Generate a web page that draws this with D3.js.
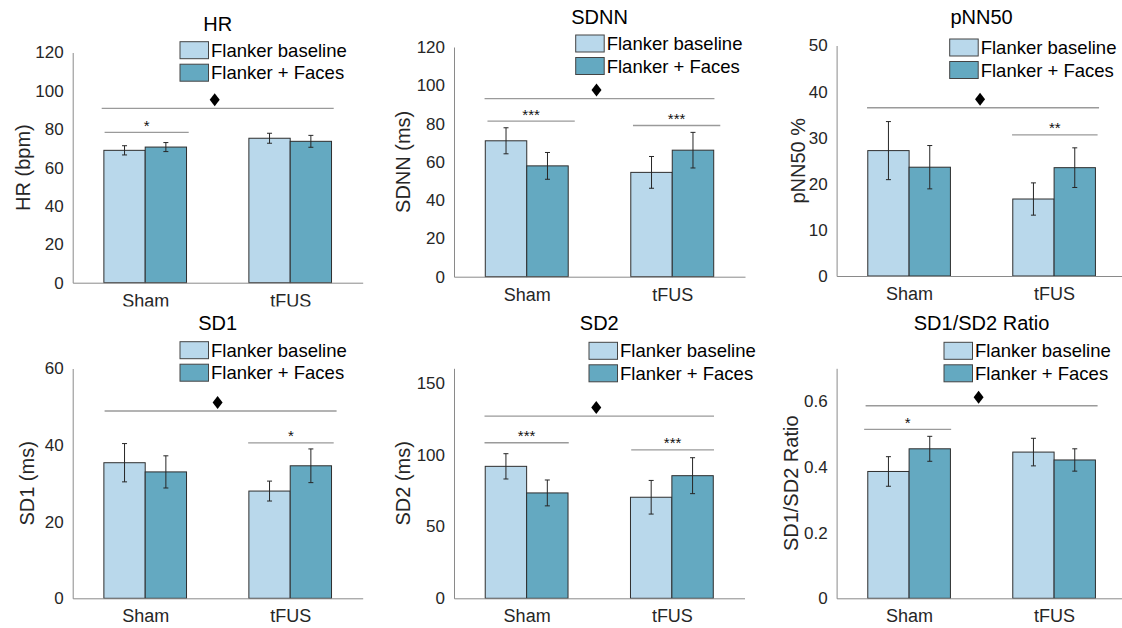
<!DOCTYPE html>
<html>
<head>
<meta charset="utf-8">
<script src="https://cdn.jsdelivr.net/npm/d3@7"></script>
<style>
  body { margin: 0; background: #fff; }
  svg { display: block; font-family: "Liberation Sans", Arial, Helvetica, sans-serif; }
</style>
</head>
<body>
<svg id="chart" width="1122" height="628"></svg>
<script>
// groups and series
const groups = ['Sham', 'tFUS'];
const series = ['Flanker baseline', 'Flanker + Faces'];
const titles = ['HR', 'SDNN', 'pNN50', 'SD1', 'SD2', 'SD1/SD2 Ratio'];
const yLabels = ['HR (bpm)', 'SDNN (ms)', 'pNN50 %', 'SD1 (ms)', 'SD2 (ms)', 'SD1/SD2 Ratio'];
const yMax = [120, 120, 50, 60, 160, 0.7];
const yTicks = [
  [0, 20, 40, 60, 80, 100, 120],
  [0, 20, 40, 60, 80, 100, 120],
  [0, 10, 20, 30, 40, 50],
  [0, 20, 40, 60],
  [0, 50, 100, 150],
  [0, 0.2, 0.4, 0.6]
];

// means [Sham, tFUS] per panel
const baselineMean = [[69.0, 75.3], [71.0, 54.5], [27.2, 16.7], [35.4, 28.0], [91.8, 70.3], [0.386, 0.445]];
const facesMean = [[70.7, 73.7], [57.9, 66.1], [23.6, 23.5], [33.0, 34.6], [73.3, 85.3], [0.455, 0.421]];
// error bar half lengths
const baselineErr = [[2.4, 2.6], [6.8, 8.3], [6.3, 3.5], [5.0, 2.6], [8.8, 11.7], [0.045, 0.042]];
const facesErr = [[2.35, 3.1], [7.0, 9.3], [4.7, 4.3], [4.2, 4.4], [9.0, 12.5], [0.038, 0.034]];

// main effect (diamond) lines, x in category units
const mainEffect = [
  { y: 90.9, x0: 0.70, x1: 2.30 },
  { y: 93.0, x0: 0.71, x1: 2.29 },
  { y: 36.5, x0: 0.71, x1: 2.31 },
  { y: 48.9, x0: 0.72, x1: 2.32 },
  { y: 126.8, x0: 0.71, x1: 2.29 },
  { y: 0.586, x0: 0.70, x1: 2.30 }
];
// pairwise comparisons
const pairwise = [
  [{ y: 78.4, x0: 0.72, x1: 1.30, label: '*' }],
  [{ y: 81.3, x0: 0.73, x1: 1.33, label: '***' }, { y: 79.0, x0: 1.73, x1: 2.33, label: '***' }],
  [{ y: 30.6, x0: 1.71, x1: 2.30, label: '**' }],
  [{ y: 40.6, x0: 1.71, x1: 2.30, label: '*' }],
  [{ y: 108.2, x0: 0.71, x1: 1.29, label: '***' }, { y: 103.2, x0: 1.72, x1: 2.29, label: '***' }],
  [{ y: 0.514, x0: 0.69, x1: 1.29, label: '*' }]
];

const colors = ['#b9d8eb', '#64a9c1'];

// panel layout
const layout = [
  { left: 72.7, right: 362.7, top: 52.5, bottom: 282.7, titleY: 30.5, legX: 180, legY: 41.7, labX: 30, clip: 306.5 },
  { left: 454, right: 745, top: 47, bottom: 276.7, titleY: 24, legX: 575.7, legY: 35, labX: 410 },
  { left: 836.6, right: 1126.6, top: 45.5, bottom: 276, titleY: 24, legX: 949.7, legY: 39, labX: 805.3 },
  { left: 72.7, right: 362.7, top: 368.5, bottom: 598.3, titleY: 330, legX: 180, legY: 341.7, labX: 33.5 },
  { left: 454, right: 744.5, top: 368.3, bottom: 598.3, titleY: 330, legX: 589, legY: 342.3, labX: 410 },
  { left: 836.6, right: 1126.6, top: 368.3, bottom: 598.3, titleY: 329.5, legX: 944, legY: 342.3, labX: 798 }
];

const svg = d3.select('#chart');

titles.forEach((title, i) => {
  const L = layout[i];
  let g = svg.append('g');
  if (L.clip) {
    svg.append('clipPath').attr('id', 'clip' + i)
      .append('rect').attr('x', 0).attr('y', 0).attr('width', 400).attr('height', L.clip);
    g.attr('clip-path', `url(#clip${i})`);
  }

  const x = d3.scaleLinear().domain([0.5, 2.5]).range([L.left, L.right]);
  const y = d3.scaleLinear().domain([0, yMax[i]]).range([L.bottom, L.top]);
  const sub = d3.scaleBand().domain(series).range([-0.285, 0.285]);

  // bars
  const rows = [];
  groups.forEach((grp, gi) => {
    rows.push({ g: gi + 1, s: series[0], v: baselineMean[i][gi], e: baselineErr[i][gi], c: colors[0] });
    rows.push({ g: gi + 1, s: series[1], v: facesMean[i][gi], e: facesErr[i][gi], c: colors[1] });
  });

  g.selectAll('.bar')
    .data(rows)
    .enter()
    .append('rect')
    .attr('x', (d) => x(d.g + sub(d.s)))
    .attr('y', (d) => y(d.v))
    .attr('width', (d) => x(d.g + sub(d.s) + sub.bandwidth()) - x(d.g + sub(d.s)))
    .attr('height', (d) => y(0) - y(d.v))
    .attr('fill', (d) => d.c)
    .attr('stroke', '#2e2e2e')
    .attr('stroke-width', 1);

  // error bars
  const cx = (d) => x(d.g + sub(d.s) + sub.bandwidth() / 2);
  const eb = g.selectAll('.err').data(rows).enter().append('g').attr('stroke', '#262626').attr('stroke-width', 1);
  eb.append('line').attr('x1', cx).attr('x2', cx)
    .attr('y1', (d) => y(d.v + d.e)).attr('y2', (d) => y(d.v - d.e));
  eb.append('line').attr('x1', (d) => cx(d) - 2.5).attr('x2', (d) => cx(d) + 2.5)
    .attr('y1', (d) => y(d.v + d.e)).attr('y2', (d) => y(d.v + d.e));
  eb.append('line').attr('x1', (d) => cx(d) - 2.5).attr('x2', (d) => cx(d) + 2.5)
    .attr('y1', (d) => y(d.v - d.e)).attr('y2', (d) => y(d.v - d.e));

  // axes
  const yAxis = g.append('g')
    .attr('transform', `translate(${L.left},0)`)
    .call(d3.axisLeft(y).tickValues(yTicks[i]).tickSize(0).tickPadding(9).tickFormat((d) => String(d)));
  const xAxis = g.append('g')
    .attr('transform', `translate(0,${L.bottom})`)
    .call(d3.axisBottom(x).tickValues([1, 2]).tickSize(0).tickFormat((d) => groups[d - 1]));
  [yAxis, xAxis].forEach((a) => {
    a.attr('font-size', null).attr('font-family', null);
    a.select('.domain').attr('stroke', '#8a8a8a').attr('stroke-width', 1);
    a.selectAll('text').attr('fill', '#262626');
  });
  yAxis.selectAll('text').attr('font-size', '17px');
  xAxis.selectAll('text').attr('font-size', '18px').attr('dy', null).attr('y', 24);

  // significance lines
  const me = mainEffect[i];
  g.append('line')
    .attr('x1', x(me.x0)).attr('x2', x(me.x1))
    .attr('y1', y(me.y)).attr('y2', y(me.y))
    .attr('stroke', '#9a9a9a').attr('stroke-width', 1.3);
  const dx = (x(me.x0) + x(me.x1)) / 2 - 3;
  const dy = y(me.y) - 8.6;
  g.append('path')
    .attr('d', `M${dx},${dy - 6.5}L${dx + 5},${dy}L${dx},${dy + 6.5}L${dx - 5},${dy}Z`)
    .attr('fill', '#000');

  g.selectAll('.pw')
    .data(pairwise[i])
    .enter()
    .append('line')
    .attr('x1', (d) => x(d.x0)).attr('x2', (d) => x(d.x1))
    .attr('y1', (d) => y(d.y)).attr('y2', (d) => y(d.y))
    .attr('stroke', '#9a9a9a').attr('stroke-width', 1.3);
  g.selectAll('.pwt')
    .data(pairwise[i])
    .enter()
    .append('text')
    .attr('x', (d) => (x(d.x0) + x(d.x1)) / 2)
    .attr('y', (d) => y(d.y) - 1.5)
    .attr('text-anchor', 'middle')
    .attr('font-size', '15px')
    .attr('fill', '#111')
    .text((d) => d.label);

  // title
  g.append('text')
    .attr('x', (L.left + L.right) / 2)
    .attr('y', L.titleY)
    .attr('text-anchor', 'middle')
    .attr('font-size', '20px')
    .attr('fill', '#000')
    .text(title);

  // y label
  g.append('text')
    .attr('transform', `translate(${L.labX},${(L.top + L.bottom) / 2}) rotate(-90)`)
    .attr('text-anchor', 'middle')
    .attr('font-size', '20px')
    .attr('fill', '#262626')
    .text(yLabels[i]);

  // legend
  const leg = g.append('g').attr('transform', `translate(${L.legX},${L.legY})`);
  series.forEach((s, si) => {
    leg.append('rect')
      .attr('x', 0).attr('y', si * 22.5)
      .attr('width', 28.5).attr('height', 17)
      .attr('fill', colors[si])
      .attr('stroke', '#444').attr('stroke-width', 1);
    leg.append('text')
      .attr('x', 31).attr('y', si * 22.5 + 8.5)
      .attr('dy', '0.36em')
      .attr('font-size', '18.5px')
      .attr('fill', '#000')
      .text(s);
  });
});
</script>
</body>
</html>
